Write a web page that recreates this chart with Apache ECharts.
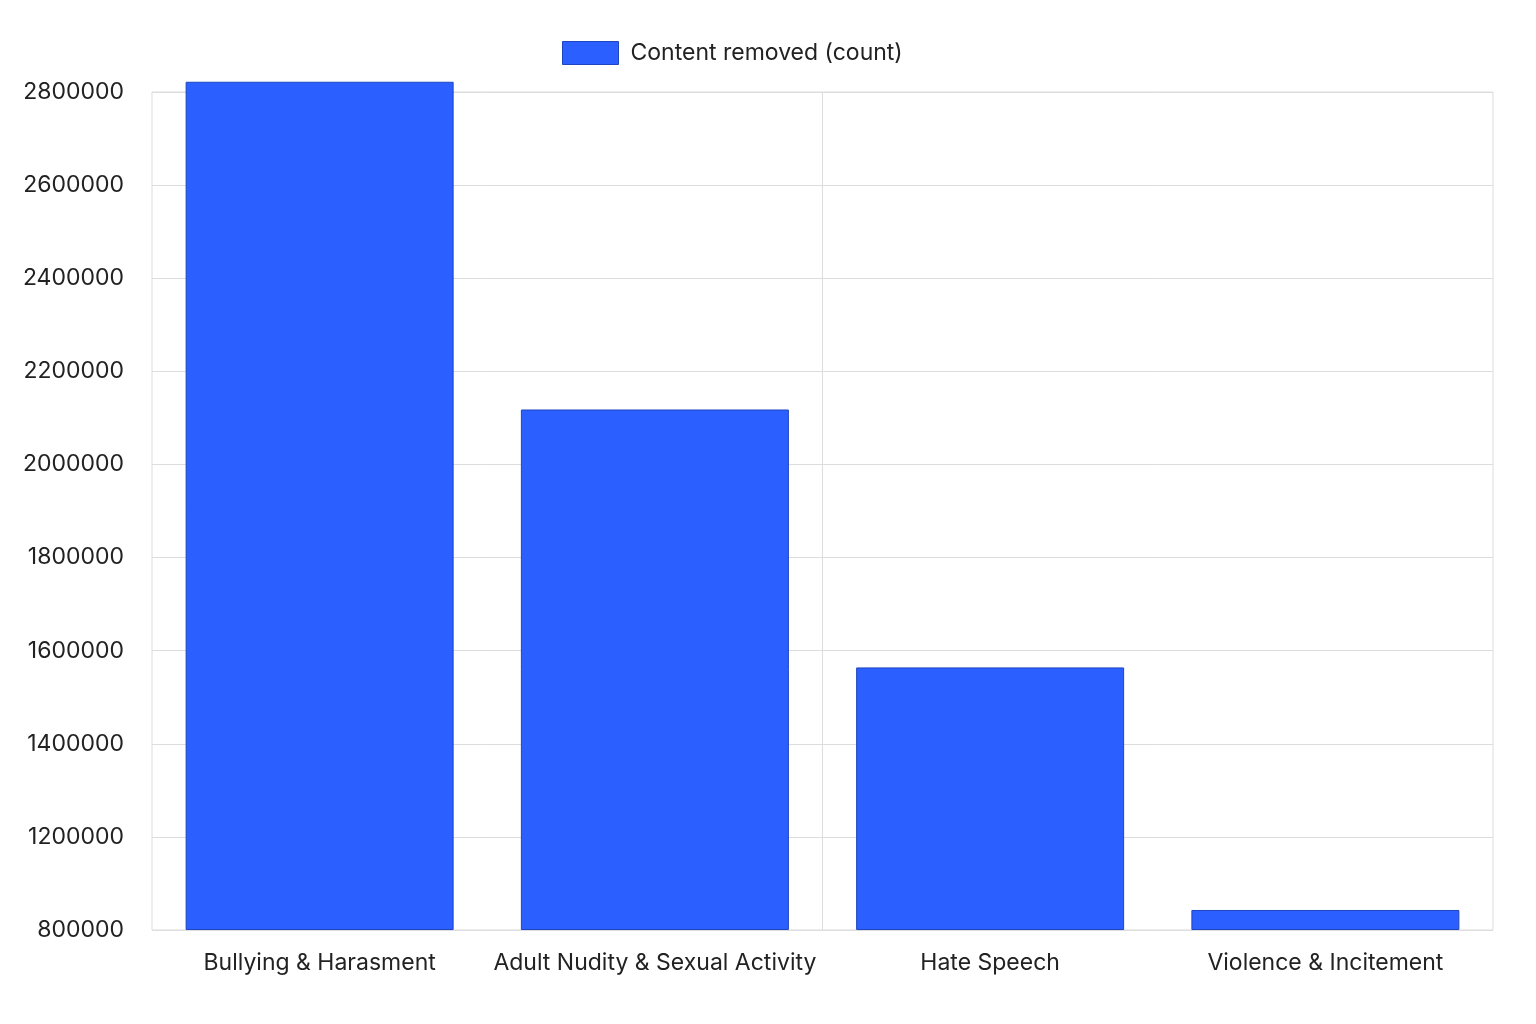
<!DOCTYPE html>
<html>
<head>
<meta charset="utf-8">
<script src="https://cdn.jsdelivr.net/npm/echarts@6/dist/echarts.min.js"></script>
<style>
  html, body { margin: 0; padding: 0; background: #fff; }
  #chart { width: 1536px; height: 1024px; }
</style>
</head>
<body>
<div id="chart"></div>
<script>
const categories = ['Bullying & Harasment', 'Adult Nudity & Sexual Activity', 'Hate Speech', 'Violence & Incitement'];
const removedCounts = [2822000, 2118000, 1564000, 1043000];
const seriesName = 'Content removed (count)';

// the source axis labels its floor as 800000 though ticks step evenly from 1000000
const axisFloor = 1000000;
const floorLabel = '800000';

const chart = echarts.init(document.getElementById('chart'));

chart.setOption({
  backgroundColor: '#fff',
  textStyle: { fontFamily: 'Inter, Roboto, sans-serif' },
  legend: {
    top: 41,
    left: 562,
    padding: 0,
    icon: 'rect',
    itemWidth: 56,
    itemHeight: 23,
    textStyle: { fontSize: 23, color: '#222', padding: [0, 0, 0, 7] },
    itemStyle: { borderColor: '#1f45c0', borderWidth: 1 },
    data: [seriesName]
  },
  grid: {
    left: 152,
    right: 43,
    top: 92,
    bottom: 94,
    show: true,
    borderColor: '#ddd',
    borderWidth: 1
  },
  xAxis: {
    type: 'category',
    data: categories,
    axisLine: { show: false },
    axisTick: { show: false },
    axisLabel: { fontSize: 23, color: '#222', margin: 22, interval: 0 },
    splitLine: {
      show: true,
      interval: 0,
      // colours cycle per divider: only the one between the 2nd and 3rd category shows
      lineStyle: { color: ['rgba(0,0,0,0)', 'rgba(0,0,0,0)', '#ddd', 'rgba(0,0,0,0)', 'rgba(0,0,0,0)'], width: 1 }
    }
  },
  yAxis: {
    type: 'value',
    min: axisFloor,
    max: 2800000,
    interval: 200000,
    axisLine: { show: false },
    axisTick: { show: false },
    axisLabel: {
      fontSize: 23,
      color: '#222',
      margin: 28,
      formatter: (v) => v === axisFloor ? floorLabel : String(v)
    },
    splitLine: { lineStyle: { color: '#ddd' } }
  },
  series: [{
    // invisible base so the bars start at the axis floor and may poke above the top
    name: 'base',
    type: 'bar',
    stack: 'total',
    data: removedCounts.map(() => axisFloor),
    barWidth: 268,
    silent: true,
    itemStyle: { color: 'rgba(0,0,0,0)' }
  }, {
    name: seriesName,
    type: 'bar',
    stack: 'total',
    data: removedCounts.map(v => v - axisFloor),
    barWidth: 268,
    clip: false,
    itemStyle: {
      color: '#2b5fff',
      borderColor: '#1f45c0',
      borderWidth: 1
    }
  }]
});
</script>
</body>
</html>
